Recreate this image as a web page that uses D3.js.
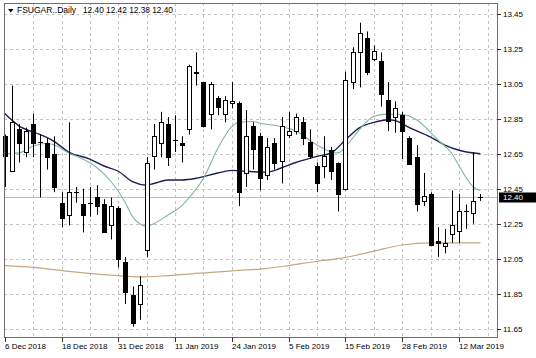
<!DOCTYPE html>
<html><head><meta charset="utf-8">
<script src="https://cdn.jsdelivr.net/npm/d3@7"></script>
<style>html,body{margin:0;padding:0;background:#fff;}svg{display:block;font-family:"Liberation Sans",Arial,sans-serif;}</style>
</head><body><svg id="c" width="536" height="358"></svg>
<script>
const dates = ["2018-12-06","2018-12-07","2018-12-10","2018-12-11","2018-12-12","2018-12-13","2018-12-14","2018-12-17","2018-12-18","2018-12-19","2018-12-20","2018-12-21","2018-12-24","2018-12-26","2018-12-27","2018-12-28","2018-12-31",
"2019-01-02","2019-01-03","2019-01-04","2019-01-07","2019-01-08","2019-01-09","2019-01-10","2019-01-11","2019-01-14","2019-01-15","2019-01-16","2019-01-17","2019-01-18","2019-01-22","2019-01-23","2019-01-24","2019-01-25","2019-01-28","2019-01-29","2019-01-30","2019-01-31",
"2019-02-01","2019-02-04","2019-02-05","2019-02-06","2019-02-07","2019-02-08","2019-02-11","2019-02-12","2019-02-13","2019-02-14","2019-02-15","2019-02-19","2019-02-20","2019-02-21","2019-02-22","2019-02-25","2019-02-26","2019-02-27","2019-02-28",
"2019-03-01","2019-03-04","2019-03-05","2019-03-06","2019-03-07","2019-03-08","2019-03-11","2019-03-12","2019-03-13","2019-03-14","2019-03-15"];
const open  = [12.75,12.55,12.79,12.66,12.82,12.72,12.71,12.65,12.37,12.30,12.43,12.36,12.37,12.40,12.36,12.24,12.34,12.03,11.84,11.79,12.10,12.64,12.71,12.82,12.73,12.71,12.79,13.11,13.06,12.88,12.97,12.88,12.94,12.94,12.54,12.81,12.75,12.53,12.71,12.61,12.76,12.78,12.83,12.72,12.58,12.58,12.67,12.60,12.45,13.06,13.23,13.31,13.19,13.18,12.96,12.86,12.87,12.74,12.63,12.38,12.42,12.15,12.12,12.19,12.21,12.32,12.31,12.40];
const high  = [12.76,13.04,12.82,12.80,12.88,12.76,12.74,12.75,12.43,12.83,12.46,12.45,12.46,12.47,12.39,12.40,12.35,12.06,11.89,11.95,12.63,12.82,12.89,12.86,12.87,12.75,13.16,13.23,13.06,13.06,12.98,12.98,13.06,12.95,12.90,12.83,12.77,12.74,12.74,12.86,12.89,12.88,12.86,12.79,12.60,12.75,12.69,12.60,13.12,13.26,13.40,13.35,13.27,13.23,13.06,12.95,12.89,12.75,12.70,12.54,12.43,12.23,12.22,12.44,12.42,12.36,12.66,12.42];
const low   = [12.46,12.55,12.60,12.63,12.63,12.40,12.56,12.43,12.23,12.24,12.37,12.20,12.29,12.30,12.20,12.16,12.00,11.79,11.66,11.70,12.06,12.56,12.63,12.58,12.66,12.60,12.76,13.04,12.80,12.79,12.87,12.83,12.91,12.35,12.46,12.56,12.44,12.50,12.56,12.48,12.74,12.76,12.70,12.62,12.43,12.51,12.50,12.32,12.44,13.02,13.03,13.10,13.18,12.92,12.78,12.77,12.62,12.59,12.32,12.35,12.12,12.06,12.08,12.14,12.14,12.22,12.25,12.38];
const close = [12.64,12.83,12.71,12.78,12.71,12.72,12.63,12.46,12.28,12.43,12.43,12.30,12.37,12.35,12.20,12.35,12.05,11.86,11.68,11.90,12.60,12.75,12.83,12.63,12.73,12.70,13.15,13.12,12.81,13.05,12.92,12.96,12.95,12.43,12.75,12.68,12.51,12.69,12.60,12.81,12.78,12.86,12.74,12.64,12.48,12.64,12.55,12.42,13.07,13.23,13.34,13.12,13.24,12.99,12.84,12.91,12.78,12.59,12.36,12.41,12.13,12.14,12.14,12.24,12.32,12.32,12.38,12.40];

// moving averages at bar indices
const maSlowIdx = [0,2,5,7,9,12,14,16,18,20,21,23,25,27,30,32,34,37,39,41,44,46,48,50,52,54,55,57,60,62,64,67];
const maSlowVal = [12.88,12.81,12.76,12.72,12.66,12.62,12.58,12.55,12.49,12.47,12.48,12.50,12.50,12.51,12.54,12.555,12.55,12.545,12.57,12.60,12.635,12.655,12.73,12.80,12.83,12.845,12.84,12.80,12.745,12.70,12.67,12.65];
const maFastIdx = [0,2,4,6,7,9,11,13,15,17,18,20,21,23,25,26,28,30,32,33,35,36,39,41,44,46,47,48,50,52,54,56,58,61,63,64,66,67];
const maFastVal = [12.65,12.655,12.695,12.71,12.70,12.655,12.62,12.57,12.49,12.37,12.29,12.235,12.25,12.30,12.355,12.40,12.51,12.68,12.805,12.83,12.835,12.825,12.805,12.78,12.70,12.66,12.655,12.69,12.79,12.865,12.877,12.875,12.845,12.73,12.65,12.58,12.46,12.44];
const ma200Idx = [0,4,9,14,17,19,23,28,33,36,40,44,47,49,52,56,60,67];
const ma200Val = [12.01,12.00,11.977,11.958,11.95,11.945,11.953,11.968,11.983,11.99,12.01,12.035,12.05,12.065,12.093,12.128,12.14,12.14];

const priceTicks = [13.45,13.25,13.05,12.85,12.65,12.45,12.25,12.05,11.85,11.65];
const dateTickIdx = [0,8,16,24,32,40,48,56,64];
const title = "FSUGAR..Daily";
const titleValues = "12.40 12.42 12.38 12.40";
const lastPrice = 12.40;

const svg = d3.select("#c");
const L = 4, R = 497, T = 3, B = 337;
const x = d3.scaleLinear().domain([0, 67]).range([4.7, 480.4]);
const y = d3.scaleLinear().domain([11.65, 13.45]).range([328.5, 14]);
const parse = d3.timeParse("%Y-%m-%d");
const fmt = d3.timeFormat("%-d %b %Y");
const gridColor = "#c4c4c4";

// grid
const g = svg.append("g");
const vIdx = d3.range(4, 69, 4);
g.selectAll("line.v").data(vIdx).join("line")
  .attr("x1", d => Math.round(x(d)) + 0.5).attr("x2", d => Math.round(x(d)) + 0.5)
  .attr("y1", T).attr("y2", B)
  .attr("stroke", gridColor).attr("stroke-dasharray", "3,3");
g.selectAll("line.h").data(priceTicks).join("line")
  .attr("x1", L).attr("x2", R)
  .attr("y1", d => Math.round(y(d)) + 0.5).attr("y2", d => Math.round(y(d)) + 0.5)
  .attr("stroke", gridColor).attr("stroke-dasharray", "3,3");

// current price line
svg.append("line").attr("x1", L).attr("x2", R)
  .attr("y1", Math.round(y(lastPrice)) + 0.5).attr("y2", Math.round(y(lastPrice)) + 0.5)
  .attr("stroke", "#bdbdbd").attr("stroke-width", 1);

// moving averages
const line = d3.line().x(d => x(d[0])).y(d => y(d[1])).curve(d3.curveMonotoneX);
svg.append("path").attr("d", line(d3.zip(ma200Idx, ma200Val)))
  .attr("fill", "none").attr("stroke", "#c6a67f").attr("stroke-width", 1.2);
svg.append("path").attr("d", line(d3.zip(maSlowIdx, maSlowVal)))
  .attr("fill", "none").attr("stroke", "#1e1e52").attr("stroke-width", 1.4);
svg.append("path").attr("d", line(d3.zip(maFastIdx, maFastVal)))
  .attr("fill", "none").attr("stroke", "#84b3a6").attr("stroke-width", 1.1);

// candles
const bars = d3.range(dates.length).map(i => ({i, o: open[i], h: high[i], l: low[i], c: close[i]}));
const cg = svg.append("g").selectAll("g").data(bars).join("g");
cg.append("line")
  .attr("x1", d => Math.round(x(d.i)) + 0.5).attr("x2", d => Math.round(x(d.i)) + 0.5)
  .attr("y1", d => y(d.h)).attr("y2", d => y(d.l))
  .attr("stroke", "#000").attr("stroke-width", 1);
cg.filter(d => Math.abs(d.o - d.c) >= 0.005).append("rect")
  .attr("x", d => Math.round(x(d.i)) - 1.5)
  .attr("width", 4)
  .attr("y", d => Math.round(y(Math.max(d.o, d.c))) + 0.5)
  .attr("height", d => Math.max(1, Math.round(y(Math.min(d.o, d.c))) - Math.round(y(Math.max(d.o, d.c)))))
  .attr("fill", d => d.c > d.o ? "#fff" : "#000")
  .attr("stroke", "#000").attr("stroke-width", 1);
cg.filter(d => Math.abs(d.o - d.c) < 0.005).append("line")
  .attr("x1", d => Math.round(x(d.i)) - 2).attr("x2", d => Math.round(x(d.i)) + 3)
  .attr("y1", d => Math.round(y(d.c)) + 0.5).attr("y2", d => Math.round(y(d.c)) + 0.5)
  .attr("stroke", "#000").attr("stroke-width", 1);

// frame
svg.append("rect").attr("x", L + 0.5).attr("y", T + 0.5).attr("width", R - L).attr("height", B - T)
  .attr("fill", "none").attr("stroke", "#6e6e6e").attr("stroke-width", 1);

// right axis
const ra = svg.append("g");
ra.selectAll("line").data(priceTicks).join("line")
  .attr("x1", R).attr("x2", R + 4)
  .attr("y1", d => Math.round(y(d)) + 0.5).attr("y2", d => Math.round(y(d)) + 0.5)
  .attr("stroke", "#333");
ra.selectAll("text").data(priceTicks).join("text")
  .attr("x", 503).attr("y", d => y(d) + 3)
  .attr("font-size", 8).attr("fill", "#000")
  .text(d => d.toFixed(2));
// last price tag
svg.append("rect").attr("x", 499).attr("y", Math.round(y(lastPrice)) - 4.5).attr("width", 37).attr("height", 10).attr("fill", "#000");
svg.append("text").attr("x", 503).attr("y", y(lastPrice) + 3)
  .attr("font-size", 8).attr("fill", "#fff").text(lastPrice.toFixed(2));

// bottom axis
const ba = svg.append("g");
ba.selectAll("line").data(dateTickIdx).join("line")
  .attr("x1", d => Math.round(x(d)) + 0.5).attr("x2", d => Math.round(x(d)) + 0.5)
  .attr("y1", B).attr("y2", B + 5).attr("stroke", "#333");
ba.selectAll("text").data(dateTickIdx).join("text")
  .attr("x", d => Math.max(4, Math.round(x(d)) )).attr("y", 349)
  .attr("font-size", 8).attr("fill", "#000")
  .text(d => fmt(parse(dates[d])));

// title
svg.append("path").attr("d", "M8,9 L13.5,9 L10.75,12.5 Z").attr("fill", "#000");
svg.append("text").attr("x", 17).attr("y", 13).attr("font-size", 8.5).attr("fill", "#000").text(title);
svg.append("text").attr("x", 83).attr("y", 13).attr("font-size", 8.3).attr("fill", "#000").text(titleValues);
</script></body></html>
